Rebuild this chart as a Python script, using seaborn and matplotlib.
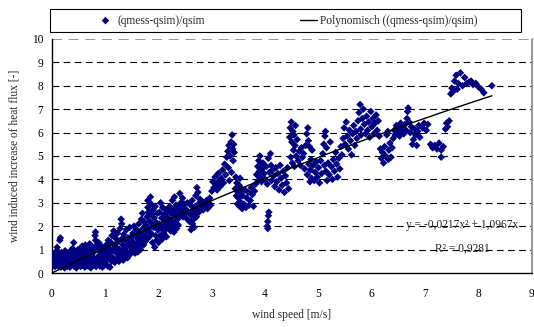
import numpy as np
import pandas as pd
import matplotlib
matplotlib.use("Agg")
import matplotlib.pyplot as plt
from matplotlib.patches import Rectangle
import seaborn as sns

# ---- data (wind speed [m/s], ratio [-]) ----
seg_0 = [(0.02, 0.55), (0.02, 0.75), (0.03, 0.35), (0.04, 0.62), (0.05, 0.45), (0.05, 0.85), (0.06, 0.28),
         (0.07, 0.68), (0.08, 0.52), (0.09, 0.38), (0.10, 0.95), (0.10, 1.10), (0.11, 0.60), (0.12, 0.30),
         (0.13, 0.78), (0.14, 0.45), (0.15, 1.40), (0.16, 1.50), (0.16, 0.55), (0.17, 0.25), (0.18, 0.88),
         (0.19, 0.40), (0.20, 0.65), (0.21, 0.32), (0.22, 0.75), (0.23, 0.50), (0.24, 0.22), (0.25, 0.95),
         (0.26, 0.60), (0.27, 0.38), (0.28, 0.80), (0.29, 0.28), (0.30, 0.55), (0.31, 0.70), (0.32, 0.42),
         (0.33, 0.90), (0.34, 0.25), (0.35, 0.62), (0.36, 0.48), (0.37, 0.78), (0.38, 0.35), (0.39, 1.05),
         (0.40, 0.58), (0.41, 1.30), (0.42, 0.30), (0.43, 0.72), (0.44, 0.45), (0.45, 0.88), (0.46, 0.22),
         (0.47, 0.65), (0.48, 0.40), (0.49, 1.00),
         (0.50, 0.35), (0.51, 0.70), (0.52, 0.50), (0.53, 1.00), (0.54, 0.28), (0.55, 0.82), (0.56, 0.45),
         (0.57, 1.15), (0.58, 0.60), (0.59, 0.32), (0.60, 0.92), (0.61, 0.52), (0.62, 0.25), (0.63, 1.20),
         (0.64, 0.75), (0.65, 0.40), (0.66, 1.05), (0.67, 0.58), (0.68, 0.30), (0.69, 0.85), (0.70, 0.48),
         (0.71, 1.25), (0.72, 0.65), (0.73, 0.22), (0.74, 0.95), (0.75, 0.42), (0.76, 1.10), (0.77, 0.70),
         (0.78, 0.35), (0.79, 0.90), (0.80, 0.55), (0.81, 1.60), (0.82, 1.75), (0.82, 1.40), (0.83, 0.28),
         (0.84, 1.20), (0.85, 0.62), (0.86, 1.00), (0.87, 0.40), (0.88, 1.30), (0.89, 0.75), (0.90, 0.30),
         (0.91, 0.95), (0.92, 0.50), (0.93, 1.15), (0.94, 0.68), (0.95, 0.25), (0.96, 0.88), (0.97, 0.45),
         (0.98, 1.05), (0.99, 0.60)]

seg_1 = [(1.00, 0.40), (1.01, 0.80), (1.02, 1.20), (1.03, 0.55), (1.04, 0.95), (1.05, 0.30), (1.06, 1.40),
         (1.07, 0.70), (1.08, 1.05), (1.09, 0.25), (1.10, 0.85), (1.11, 1.30), (1.12, 0.50), (1.13, 1.60),
         (1.14, 1.00), (1.15, 0.65), (1.16, 1.80), (1.17, 1.20), (1.18, 0.45), (1.19, 1.50), (1.20, 0.90),
         (1.21, 1.10), (1.22, 0.60), (1.23, 1.70), (1.24, 0.80), (1.25, 1.35), (1.26, 0.50), (1.27, 1.00),
         (1.28, 1.90), (1.29, 0.70), (1.30, 2.30), (1.31, 2.10), (1.31, 1.45), (1.32, 0.90), (1.33, 1.20),
         (1.34, 0.55), (1.35, 1.65), (1.36, 1.05), (1.37, 0.75), (1.38, 1.40), (1.39, 0.95), (1.40, 1.85),
         (1.41, 1.15), (1.42, 0.65), (1.43, 1.50), (1.44, 0.85), (1.45, 1.25), (1.46, 1.95), (1.47, 0.80),
         (1.48, 1.10), (1.49, 1.55),
         (1.50, 0.95), (1.51, 1.35), (1.52, 1.70), (1.53, 1.00), (1.54, 2.00), (1.55, 1.20), (1.56, 0.85),
         (1.57, 1.55), (1.58, 1.10), (1.59, 1.85), (1.60, 1.30), (1.61, 0.90), (1.62, 1.60), (1.63, 2.10),
         (1.64, 1.15), (1.65, 1.45), (1.66, 1.00), (1.67, 1.75), (1.68, 2.30), (1.69, 1.25), (1.70, 2.55),
         (1.70, 1.50), (1.71, 1.90), (1.72, 1.20), (1.73, 2.20), (1.74, 1.60), (1.75, 1.35), (1.76, 2.05),
         (1.77, 1.75), (1.78, 1.45), (1.79, 2.40), (1.80, 3.10), (1.80, 2.80), (1.81, 2.60), (1.82, 1.90),
         (1.83, 1.55), (1.84, 2.20), (1.85, 3.25), (1.86, 2.95), (1.86, 1.70), (1.87, 2.50), (1.88, 2.10),
         (1.89, 1.30), (1.90, 2.70), (1.91, 1.95), (1.92, 2.35), (1.93, 1.10), (1.94, 2.85), (1.95, 1.60),
         (1.96, 2.15), (1.97, 1.40), (1.98, 2.55), (1.99, 1.85)]

seg_2 = [(2.00, 1.30), (2.01, 2.10), (2.02, 2.60), (2.03, 1.60), (2.04, 3.00), (2.05, 1.90), (2.06, 2.35),
         (2.07, 1.45), (2.08, 2.80), (2.09, 2.00), (2.10, 1.70), (2.11, 2.50), (2.12, 2.20), (2.13, 1.85),
         (2.14, 2.70), (2.15, 1.55), (2.16, 2.40), (2.17, 2.05), (2.18, 2.65), (2.19, 1.95), (2.20, 2.30),
         (2.21, 2.85), (2.22, 2.10), (2.23, 1.80), (2.24, 2.55), (2.25, 2.25), (2.26, 3.10), (2.27, 2.00),
         (2.28, 2.70), (2.29, 1.75), (2.30, 3.25), (2.31, 2.45), (2.32, 2.15), (2.33, 2.90), (2.34, 1.90),
         (2.35, 2.60), (2.36, 2.30), (2.37, 2.05), (2.38, 2.80), (2.39, 2.45), (2.40, 3.40), (2.41, 2.70),
         (2.42, 3.00), (2.43, 2.55), (2.44, 2.85), (2.45, 3.20), (2.46, 2.40), (2.47, 2.65), (2.48, 2.95),
         (2.49, 2.50),
         (2.50, 2.75), (2.52, 2.35), (2.54, 3.00), (2.56, 2.60), (2.58, 2.20), (2.60, 2.90), (2.61, 1.85),
         (2.62, 2.45), (2.63, 3.10), (2.64, 2.10), (2.65, 2.70), (2.66, 2.30), (2.67, 1.95), (2.68, 2.55),
         (2.69, 2.85), (2.70, 3.30), (2.71, 2.40), (2.72, 3.65), (2.73, 2.75), (2.74, 3.45), (2.75, 2.95),
         (2.76, 2.60), (2.78, 3.15), (2.80, 2.80), (2.82, 3.05), (2.84, 2.70), (2.86, 2.95), (2.88, 2.85),
         (2.90, 3.10), (2.92, 2.75), (2.94, 3.00), (2.96, 3.20), (2.98, 2.90)]

seg_3 = [(3.00, 3.50), (3.02, 3.90), (3.04, 3.65), (3.06, 4.10), (3.08, 3.80), (3.10, 3.55), (3.12, 4.25),
         (3.14, 3.95), (3.16, 3.70), (3.18, 4.05), (3.20, 4.40), (3.22, 3.85), (3.24, 4.65), (3.26, 4.20),
         (3.28, 4.95), (3.30, 5.20), (3.31, 4.50), (3.32, 5.45), (3.33, 3.95), (3.34, 5.00), (3.36, 5.60),
         (3.37, 4.30), (3.38, 5.90), (3.39, 5.30), (3.40, 4.80), (3.41, 5.50), (3.42, 5.15), (3.44, 3.60),
         (3.45, 4.10), (3.46, 3.30), (3.47, 3.85), (3.48, 2.95), (3.49, 3.45),
         (3.50, 3.20), (3.51, 3.75), (3.52, 2.85), (3.53, 4.05), (3.54, 3.40), (3.55, 3.00), (3.56, 3.60),
         (3.57, 2.75), (3.58, 3.30), (3.60, 2.95), (3.62, 3.55), (3.64, 2.80), (3.66, 3.20), (3.68, 3.45),
         (3.70, 2.90), (3.72, 3.10), (3.74, 3.65), (3.76, 3.35), (3.78, 2.85), (3.80, 3.50), (3.82, 3.80),
         (3.84, 4.20), (3.86, 4.55), (3.87, 3.95), (3.88, 4.80), (3.89, 4.35), (3.90, 5.00), (3.91, 4.10),
         (3.92, 4.60), (3.93, 3.90), (3.94, 4.45), (3.96, 4.70), (3.98, 4.25)]

seg_4 = [(4.04, 2.00), (4.05, 2.20), (4.06, 2.45), (4.07, 2.60), (4.05, 1.90),
         (4.00, 4.00), (4.02, 4.55), (4.04, 3.80), (4.06, 4.90), (4.08, 4.30), (4.10, 5.10), (4.11, 4.60),
         (4.12, 3.95), (4.14, 4.40), (4.16, 4.15), (4.18, 3.70), (4.20, 4.50), (4.22, 3.90), (4.24, 4.25),
         (4.26, 3.55), (4.28, 4.60), (4.30, 4.05), (4.32, 3.75), (4.34, 4.35), (4.36, 3.45), (4.38, 4.15),
         (4.40, 3.85), (4.42, 4.50), (4.44, 3.60), (4.46, 5.80), (4.47, 6.20), (4.48, 4.95), (4.49, 6.45),
         (4.50, 5.60), (4.51, 4.70), (4.52, 6.05), (4.53, 5.25), (4.54, 5.90), (4.55, 4.55), (4.56, 5.45),
         (4.57, 6.30), (4.58, 5.00), (4.60, 5.70), (4.62, 4.80), (4.64, 5.20), (4.66, 4.60), (4.68, 5.35),
         (4.70, 4.95), (4.72, 5.10), (4.74, 4.45), (4.76, 5.45), (4.78, 5.95), (4.79, 4.20), (4.80, 6.20),
         (4.81, 5.65), (4.82, 4.65), (4.83, 5.40), (4.84, 3.90), (4.85, 4.40), (4.86, 4.85), (4.87, 4.05),
         (4.88, 5.25), (4.90, 4.60), (4.92, 3.95), (4.94, 4.30), (4.96, 4.75), (4.98, 4.10)]

seg_5 = [(5.00, 4.50), (5.02, 3.85), (5.04, 4.80), (5.06, 4.25), (5.08, 5.10), (5.10, 5.50), (5.11, 4.60),
         (5.12, 5.85), (5.13, 6.05), (5.14, 4.35), (5.15, 5.35), (5.16, 3.95), (5.18, 4.70), (5.20, 4.20),
         (5.22, 5.60), (5.24, 4.55), (5.26, 4.00), (5.28, 4.85), (5.30, 4.35), (5.32, 5.15), (5.34, 4.65),
         (5.36, 4.10), (5.38, 4.90), (5.40, 4.45), (5.42, 5.40), (5.44, 5.05), (5.46, 5.75), (5.48, 6.20),
         (5.50, 5.50), (5.52, 6.45), (5.54, 5.85), (5.56, 5.30), (5.58, 6.10), (5.60, 5.65), (5.62, 5.05),
         (5.64, 5.95), (5.66, 6.30), (5.68, 5.45), (5.70, 6.05), (5.72, 5.75), (5.74, 6.50), (5.76, 6.85),
         (5.78, 7.20), (5.79, 6.15), (5.80, 5.90), (5.82, 6.60), (5.84, 7.00), (5.86, 6.35), (5.88, 5.95),
         (5.90, 6.70), (5.92, 6.10), (5.94, 6.45), (5.96, 5.80), (5.98, 6.90)]

seg_6 = [(6.00, 6.25), (6.02, 6.60), (6.04, 5.95), (6.06, 6.40), (6.08, 6.75), (6.10, 6.10), (6.12, 6.50),
         (6.14, 5.85), (6.16, 5.30), (6.18, 4.90), (6.20, 5.15), (6.22, 4.70), (6.24, 5.40), (6.26, 5.00),
         (6.28, 5.90), (6.30, 6.05), (6.31, 4.85), (6.32, 5.25), (6.34, 5.55), (6.36, 4.95), (6.38, 5.35),
         (6.40, 5.75), (6.42, 6.10), (6.44, 5.90), (6.46, 6.30), (6.48, 6.00),
         (6.50, 6.20), (6.52, 5.85), (6.54, 6.40), (6.56, 6.05), (6.58, 6.25), (6.60, 5.95), (6.62, 6.35),
         (6.64, 6.10), (6.66, 6.60), (6.67, 6.90), (6.68, 7.05), (6.70, 6.45), (6.72, 6.00), (6.74, 6.25),
         (6.76, 5.50), (6.78, 5.70), (6.80, 6.15), (6.82, 5.90), (6.84, 5.45), (6.86, 6.05), (6.88, 6.30),
         (6.90, 5.80), (6.95, 6.20), (6.98, 6.40)]

seg_7 = [(7.02, 6.10), (7.05, 6.35), (7.10, 5.50), (7.14, 5.35), (7.18, 5.45), (7.22, 5.30), (7.26, 5.55),
         (7.30, 5.25), (7.30, 4.95), (7.34, 5.40), (7.38, 6.15), (7.40, 6.40), (7.42, 6.25), (7.45, 6.50),
         (7.48, 7.65), (7.50, 7.90), (7.52, 7.75), (7.55, 8.20), (7.58, 8.45), (7.60, 7.85), (7.62, 8.10),
         (7.66, 8.55), (7.70, 8.00), (7.74, 8.35), (7.78, 8.10), (7.82, 8.15), (7.86, 8.20), (7.90, 8.05),
         (7.95, 8.10), (8.00, 7.95), (8.05, 7.85), (8.10, 7.70), (8.25, 8.00)]

# trend line as given in the chart: y = -0,0217x^2 + 1,0967x
trend_coef = [-0.0217, 1.0967, 0.0]
trend_x_end = 8.25
eq_text = "y = -0,0217x² + 1,0967x"
r2_text = "R² = 0,9281"

x_ticks = list(range(0, 10))
y_ticks = list(range(0, 11))

# ---- build frames ----
points = seg_0 + seg_1 + seg_2 + seg_3 + seg_4 + seg_5 + seg_6 + seg_7
df = pd.DataFrame(points, columns=["wind", "ratio"])
xs = np.linspace(0, trend_x_end, 100)
df_trend = pd.DataFrame({"wind": xs, "ratio": np.polyval(trend_coef, xs)})

sns.set_style("white")
plt.rcParams["font.family"] = ["Liberation Serif", "DejaVu Serif"]
fs = 8.3

fig = plt.figure(figsize=(5.34, 3.27), dpi=100)
ax = fig.add_axes([0.097, 0.165, 0.899, 0.716])

# dashed grid
for yv in y_ticks[1:-1]:
    ax.axhline(yv, color="black", lw=0.8, ls=(0, (6, 4)), zorder=0)
ax.axhline(10, color="#888888", lw=1.2, ls=(0, (6, 4)), zorder=0)

sns.scatterplot(data=df, x="wind", y="ratio", ax=ax, marker="D", s=15,
                color="#000080", edgecolor="none", label="(qmess-qsim)/qsim", zorder=3)
sns.lineplot(data=df_trend, x="wind", y="ratio", ax=ax, color="black", lw=1.0,
             label="Polynomisch ((qmess-qsim)/qsim)", zorder=4)

ax.set_xlim(0, 9)
ax.set_ylim(0, 10)
ax.set_xticks(x_ticks)
ax.set_yticks(y_ticks)
ax.tick_params(direction="inout", length=6, width=0.8, colors="black", labelsize=fs, pad=8)
ax.tick_params(axis="y", pad=3)

for side in ["left", "bottom"]:
    ax.spines[side].set_color("black")
    ax.spines[side].set_linewidth(1.0)
ax.spines["top"].set_visible(False)
ax.spines["right"].set_color("#888888")
ax.spines["right"].set_linewidth(1.2)

ax.set_xlabel("wind speed [m/s]", fontsize=fs, labelpad=6)
ax.set_ylabel("wind induced increase of heat flux [-]", fontsize=fs, labelpad=8)

ax.text(7.7, 2.05, eq_text, ha="center", va="center", fontsize=fs)
ax.text(7.7, 1.05, r2_text, ha="center", va="center", fontsize=fs)

# legend frame spanning the width, entries centred inside it
fig.patches.append(Rectangle((0.094, 0.902), 0.882, 0.070, transform=fig.transFigure,
                             fill=False, edgecolor="black", lw=0.8))
leg = ax.legend(loc="center", bbox_to_anchor=(0.538, 0.937), bbox_transform=fig.transFigure,
                ncol=2, frameon=False, fontsize=fs, handlelength=1.5, handletextpad=0.3,
                columnspacing=8.2, borderaxespad=0)

fig.savefig("out.png", dpi=100)
